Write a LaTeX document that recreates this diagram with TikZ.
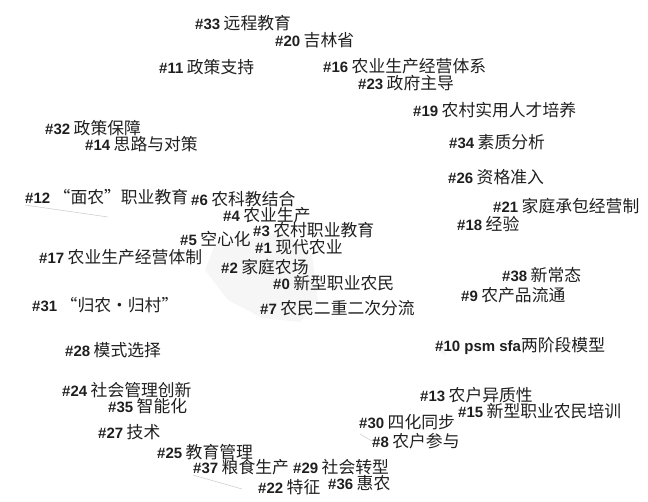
\documentclass[tikz,border=0pt]{standalone}
\usepackage{fontspec}
\usepackage{xcolor}
\usetikzlibrary{positioning}
\newfontfamily\numfont{Liberation Sans}
\newfontfamily\cjk{Noto Sans CJK SC}
\definecolor{blobgray}{HTML}{F6F6F6}
\definecolor{linkgray}{HTML}{CFCFCF}
\newcommand{\clab}[2]{{\numfont\bfseries\fontsize{15}{15}\selectfont #1}\hspace{3.5pt}{\cjk\fontsize{16.8}{15}\selectfont #2}}

\begin{document}
\begin{tikzpicture}[
  x=1pt,y=-1pt,
  lbl/.style={anchor=west,inner sep=0pt,text=black!88},
  link/.style={draw=linkgray,line width=0.6pt},
  blob/.style={fill=blobgray,draw=none}
]
\useasboundingbox (0,0) rectangle (648,502);
% faint cluster area
\fill[blob] (215,245) -- (285,232) -- (312,255) -- (318,300) -- (300,322) -- (262,318) -- (228,300) -- (205,270) -- cycle;
\fill[blob] (436,350) -- (444,342) -- (446,356) -- cycle;
% labels
\node[lbl] (c33) at (195,23) {\clab{\#33}{远程教育}};
\node[lbl] (c20) at (275,40) {\clab{\#20}{吉林省}};
\node[lbl] (c11) at (159,67) {\clab{\#11}{政策支持}};
\node[lbl] (c16) at (323,66) {\clab{\#16}{农业生产经营体系}};
\node[lbl] (c23) at (358,83) {\clab{\#23}{政府主导}};
\node[lbl] (c19) at (413,110) {\clab{\#19}{农村实用人才培养}};
\node[lbl] (c32) at (45,128) {\clab{\#32}{政策保障}};
\node[lbl] (c14) at (85,144) {\clab{\#14}{思路与对策}};
\node[lbl] (c34) at (449,142) {\clab{\#34}{素质分析}};
\node[lbl] (c26) at (448,177) {\clab{\#26}{资格准入}};
\node[lbl] (c12) at (25,197) {\clab{\#12}{“面农”职业教育}};
\node[lbl] (c6) at (191,199) {\clab{\#6}{农科教结合}};
\node[lbl] (c21) at (493,206) {\clab{\#21}{家庭承包经营制}};
\node[lbl] (c4) at (223,215) {\clab{\#4}{农业生产}};
\node[lbl] (c18) at (457,224) {\clab{\#18}{经验}};
\node[lbl] (c3) at (253,230) {\clab{\#3}{农村职业教育}};
\node[lbl] (c5) at (180,239) {\clab{\#5}{空心化}};
\node[lbl] (c1) at (255,247) {\clab{\#1}{现代农业}};
\node[lbl] (c17) at (39,257) {\clab{\#17}{农业生产经营体制}};
\node[lbl] (c2) at (221,267) {\clab{\#2}{家庭农场}};
\node[lbl] (c38) at (502,275) {\clab{\#38}{新常态}};
\node[lbl] (c0) at (273,283) {\clab{\#0}{新型职业农民}};
\node[lbl] (c9) at (461,295) {\clab{\#9}{农产品流通}};
\node[lbl] (c31) at (32,305) {\clab{\#31}{“归农·归村”}};
\node[lbl] (c7) at (260,308) {\clab{\#7}{农民二重二次分流}};
\node[lbl] (c28) at (65,350) {\clab{\#28}{模式选择}};
\node[lbl] (c10) at (435,346) {{\numfont\bfseries\fontsize{15}{15}\selectfont \#10 psm sfa}{\cjk\fontsize{16.8}{15}\selectfont 两阶段模型}};
\node[lbl] (c24) at (62,390) {\clab{\#24}{社会管理创新}};
\node[lbl] (c13) at (420,395) {\clab{\#13}{农户异质性}};
\node[lbl] (c35) at (108,406) {\clab{\#35}{智能化}};
\node[lbl] (c15) at (458,411) {\clab{\#15}{新型职业农民培训}};
\node[lbl] (c30) at (359,422) {\clab{\#30}{四化同步}};
\node[lbl] (c27) at (98,432) {\clab{\#27}{技术}};
\node[lbl] (c8) at (372,441) {\clab{\#8}{农户参与}};
\node[lbl] (c25) at (157,452) {\clab{\#25}{教育管理}};
\node[lbl] (c37) at (193,467) {\clab{\#37}{粮食生产}};
\node[lbl] (c29) at (293,467) {\clab{\#29}{社会转型}};
\node[lbl] (c22) at (258,487) {\clab{\#22}{特征}};
\node[lbl] (c36) at (328,483) {\clab{\#36}{惠农}};
% faint links
\coordinate (e12) at (108,217);
\coordinate (e37) at (242,489);
\coordinate (e8) at (360,434);
\draw[link] (c12.south west) -- (e12);
\draw[link] (c37.south west) -- (e37);
\draw[link] (c8.west) -- (e8);
\end{tikzpicture}
\end{document}
